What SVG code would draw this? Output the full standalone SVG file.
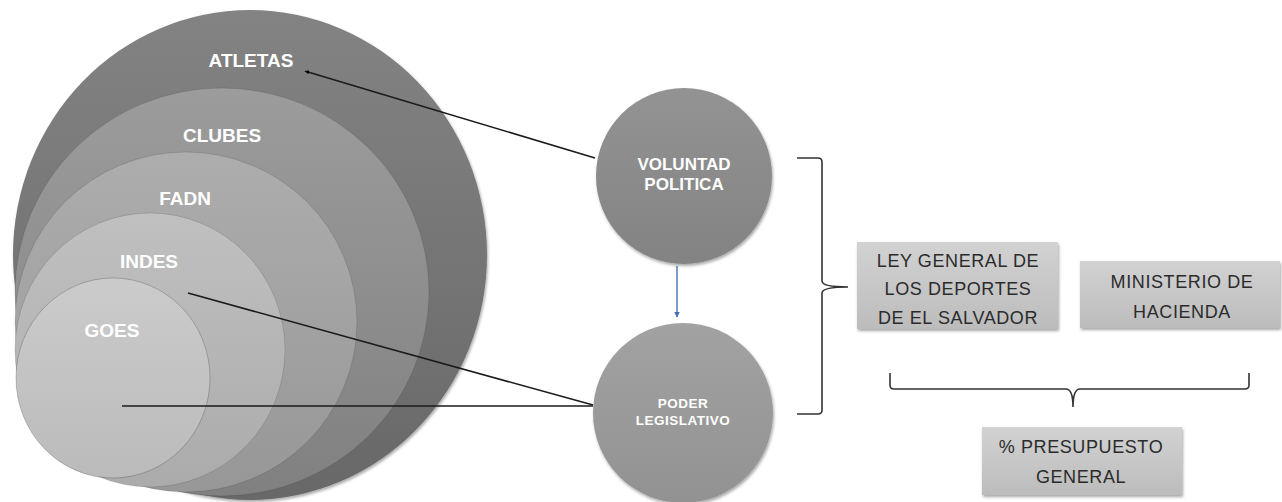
<svg xmlns="http://www.w3.org/2000/svg" width="1282" height="502" viewBox="0 0 1282 502">
  <style>
    .lbl { font-family: "Liberation Sans", Arial, sans-serif; font-weight: bold; fill: #ffffff; text-anchor: middle; }
    .big { font-size: 19px; }
    .mid { font-size: 17px; }
    .sm { font-size: 13.5px; letter-spacing: 0.5px; }
    .box { stroke: none; }
    .btxt { font-family: "Liberation Sans", Arial, sans-serif; font-size: 18px; fill: #2b2b2b; text-anchor: middle; letter-spacing: 0.6px; }
    .ln { stroke: #1a1a1a; stroke-width: 1.6; fill: none; }
    .br { stroke: #333333; stroke-width: 1.6; fill: none; }
    .ring { stroke: rgba(0,0,0,0.12); stroke-width: 1; }
  </style>
  <defs>
    <linearGradient id="gA" x1="0" y1="0" x2="0" y2="1">
      <stop offset="0" stop-color="#838383"/>
      <stop offset="1" stop-color="#686868"/>
    </linearGradient>
    <linearGradient id="gC" x1="0" y1="0" x2="0" y2="1">
      <stop offset="0" stop-color="#9c9c9c"/>
      <stop offset="1" stop-color="#808080"/>
    </linearGradient>
    <linearGradient id="gF" x1="0" y1="0" x2="0" y2="1">
      <stop offset="0" stop-color="#adadad"/>
      <stop offset="1" stop-color="#979797"/>
    </linearGradient>
    <linearGradient id="gI" x1="0" y1="0" x2="0" y2="1">
      <stop offset="0" stop-color="#c0c0c0"/>
      <stop offset="1" stop-color="#ababab"/>
    </linearGradient>
    <linearGradient id="gG" x1="0" y1="0" x2="0" y2="1">
      <stop offset="0" stop-color="#cbcbcb"/>
      <stop offset="1" stop-color="#bbbbbb"/>
    </linearGradient>
    <linearGradient id="gV" x1="0" y1="0" x2="0" y2="1">
      <stop offset="0" stop-color="#939393"/>
      <stop offset="1" stop-color="#838383"/>
    </linearGradient>
    <linearGradient id="gP" x1="0" y1="0" x2="0" y2="1">
      <stop offset="0" stop-color="#a2a2a2"/>
      <stop offset="1" stop-color="#929292"/>
    </linearGradient>
    <linearGradient id="gB" x1="0" y1="0" x2="0" y2="1">
      <stop offset="0" stop-color="#d2d2d2"/>
      <stop offset="1" stop-color="#bcbcbc"/>
    </linearGradient>
    <filter id="shadow" x="-10%" y="-10%" width="120%" height="130%">
      <feGaussianBlur in="SourceAlpha" stdDeviation="1.5"/>
      <feOffset dx="1" dy="1.5" result="o"/>
      <feComponentTransfer><feFuncA type="linear" slope="0.35"/></feComponentTransfer>
      <feMerge><feMergeNode/><feMergeNode in="SourceGraphic"/></feMerge>
    </filter>
    <marker id="dot" viewBox="0 0 10 10" refX="2" refY="5" markerWidth="3" markerHeight="3" orient="auto-start-reverse">
      <path d="M0,1 L10,5 L0,9 z" fill="#000000"/>
    </marker>
    <marker id="blue" viewBox="0 0 10 10" refX="9" refY="5" markerWidth="4" markerHeight="4" orient="auto">
      <path d="M0,0 L10,5 L0,10 z" fill="#4a6fb0"/>
    </marker>
  </defs>

  <rect width="1282" height="502" fill="#ffffff"/>

  <g id="node-atletas">
    <ellipse cx="250" cy="255" rx="237" ry="245" fill="url(#gA)" filter="url(#shadow)"/>
    <text class="lbl big" x="251" y="67">ATLETAS</text>
  </g>
  <g id="node-clubes">
    <ellipse class="ring" cx="222" cy="292" rx="207" ry="204" fill="url(#gC)"/>
    <text class="lbl big" x="222" y="142">CLUBES</text>
  </g>
  <g id="node-fadn">
    <ellipse class="ring" cx="186" cy="322" rx="171" ry="170" fill="url(#gF)"/>
    <text class="lbl big" x="185" y="205">FADN</text>
  </g>
  <g id="node-indes">
    <ellipse class="ring" cx="150" cy="350" rx="135" ry="137" fill="url(#gI)"/>
    <text class="lbl big" x="149" y="268">INDES</text>
  </g>
  <g id="node-goes">
    <ellipse cx="113" cy="378" rx="97" ry="100" fill="url(#gG)" stroke="rgba(0,0,0,0.2)" stroke-width="1"/>
    <text class="lbl big" x="112" y="337">GOES</text>
  </g>

  <g id="node-voluntad">
    <circle cx="684" cy="176" r="88" fill="url(#gV)" filter="url(#shadow)"/>
    <text class="lbl mid" x="684" y="170">VOLUNTAD</text>
    <text class="lbl mid" x="684" y="190">POLITICA</text>
  </g>
  <g id="node-poder">
    <circle cx="683" cy="413" r="90" fill="url(#gP)" filter="url(#shadow)"/>
    <text class="lbl sm" x="683" y="408">PODER</text>
    <text class="lbl sm" x="683" y="425">LEGISLATIVO</text>
  </g>

  <g id="node-ley">
    <rect class="box" x="857" y="242" width="201" height="87" fill="url(#gB)" filter="url(#shadow)"/>
    <text class="btxt" x="958" y="267">LEY GENERAL DE</text>
    <text class="btxt" x="958" y="295">LOS DEPORTES</text>
    <text class="btxt" x="958" y="324">DE EL SALVADOR</text>
  </g>
  <g id="node-ministerio">
    <rect class="box" x="1080" y="261" width="200" height="67" fill="url(#gB)" filter="url(#shadow)"/>
    <text class="btxt" x="1182" y="288">MINISTERIO DE</text>
    <text class="btxt" x="1182" y="318">HACIENDA</text>
  </g>
  <g id="node-presupuesto">
    <rect class="box" x="982" y="427" width="200" height="68" fill="url(#gB)" filter="url(#shadow)"/>
    <text class="btxt" x="1081" y="453">% PRESUPUESTO</text>
    <text class="btxt" x="1081" y="483">GENERAL</text>
  </g>

  <g id="connectors">
    <line class="ln" x1="595" y1="158" x2="308" y2="72" marker-end="url(#dot)"/>
    <line class="ln" x1="188" y1="293" x2="593" y2="405"/>
    <line class="ln" x1="122" y1="406" x2="593" y2="406"/>
    <line x1="677" y1="266" x2="677" y2="317" stroke="#4a6fb0" stroke-width="1.4" marker-end="url(#blue)"/>
    <path class="br" d="M797,158 H818 Q822,158 822,162 V281 Q822,287 848,287 Q822,287 822,293 V410 Q822,414 818,414 H797"/>
    <path class="br" d="M890,373 V385 Q890,389 894,389 H1066 Q1073,389 1073,407 Q1073,389 1080,389 H1245 Q1249,389 1249,385 V373"/>
  </g>
</svg>
